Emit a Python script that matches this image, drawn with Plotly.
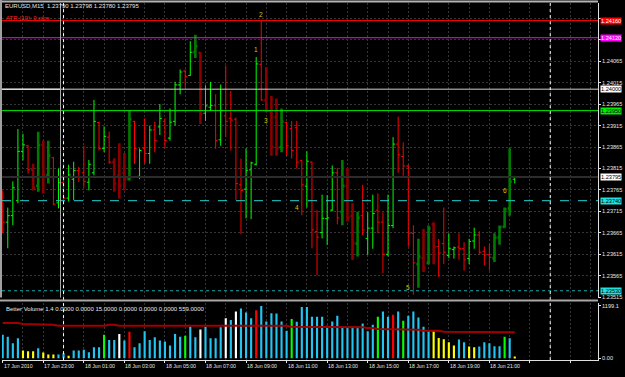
import pandas as pd
import plotly.graph_objects as go

# ---------------- data (EURUSD M15, 17 Jun 2010 21:00 -> 18 Jun 2010 22:15) ----------------
first_bar = "2010-06-17 21:00"
bar_open = [1.23750, 1.23690, 1.23705, 1.23740, 1.23855, 1.23868, 1.23812, 1.23775, 1.23870, 1.23800,
            1.23840, 1.23735, 1.23782, 1.23746, 1.23790, 1.23810, 1.23805, 1.23783, 1.23805, 1.23922,
            1.23862, 1.23888, 1.23830, 1.23800, 1.23805, 1.23790, 1.23925, 1.23797, 1.23862, 1.23850,
            1.23905, 1.23912, 1.23925, 1.23886, 1.23925, 1.24010, 1.24042, 1.24032, 1.24087, 1.24085,
            1.23944, 1.23958, 1.23961, 1.23882, 1.23938, 1.23932, 1.23930, 1.23777, 1.23767, 1.23812,
            1.23825, 1.24058, 1.23975, 1.23948, 1.23935, 1.23865, 1.23922, 1.23908, 1.23910, 1.23834,
            1.23774, 1.23830, 1.23668, 1.23666, 1.23698, 1.23718, 1.23805, 1.23714, 1.23774, 1.23705,
            1.23640, 1.23705, 1.23652, 1.23676, 1.23718, 1.23690, 1.23615, 1.23682, 1.23872, 1.23843,
            1.23821, 1.23664, 1.23592, 1.23606, 1.23595, 1.23685, 1.23633, 1.23640, 1.23612, 1.23626,
            1.23632, 1.23628, 1.23605, 1.23646, 1.23660, 1.23622, 1.23614, 1.23606, 1.23654, 1.23679,
            1.23722, 1.23790]
bar_high = [1.23764, 1.23724, 1.23785, 1.23907, 1.23896, 1.23870, 1.23826, 1.23901, 1.23880, 1.23880,
            1.23842, 1.23815, 1.23803, 1.23824, 1.23831, 1.23819, 1.23868, 1.23835, 1.23975, 1.23925,
            1.23913, 1.23901, 1.23839, 1.23874, 1.23851, 1.23949, 1.23926, 1.23862, 1.23932, 1.23915,
            1.23924, 1.23965, 1.23932, 1.23955, 1.24017, 1.24046, 1.24046, 1.24112, 1.24127, 1.24086,
            1.24009, 1.24017, 1.23988, 1.24011, 1.24055, 1.23996, 1.23934, 1.23838, 1.23862, 1.23831,
            1.24075, 1.24159, 1.24052, 1.23984, 1.23978, 1.23955, 1.23924, 1.23926, 1.23926, 1.23835,
            1.23855, 1.23831, 1.23718, 1.23754, 1.23753, 1.23822, 1.23816, 1.23835, 1.23816, 1.23734,
            1.23714, 1.23777, 1.23713, 1.23754, 1.23757, 1.23713, 1.23754, 1.23888, 1.23936, 1.23876,
            1.23824, 1.23683, 1.23651, 1.23674, 1.23682, 1.23690, 1.23651, 1.23724, 1.23664, 1.23633,
            1.23664, 1.23643, 1.23651, 1.23677, 1.23669, 1.23633, 1.23637, 1.23664, 1.23682, 1.23724,
            1.23862, 1.23798]
bar_low = [1.23664, 1.23629, 1.23683, 1.23734, 1.23834, 1.23803, 1.23764, 1.23761, 1.23757, 1.23780,
           1.23729, 1.23722, 1.23741, 1.23738, 1.23741, 1.23784, 1.23772, 1.23764, 1.23799, 1.23857,
           1.23853, 1.23826, 1.23761, 1.23745, 1.23764, 1.23787, 1.23826, 1.23790, 1.23826, 1.23826,
           1.23853, 1.23893, 1.23862, 1.23880, 1.23915, 1.23988, 1.24004, 1.24031, 1.24073, 1.23919,
           1.23926, 1.23949, 1.23861, 1.23868, 1.23888, 1.23857, 1.23741, 1.23662, 1.23699, 1.23697,
           1.23822, 1.23973, 1.23946, 1.23845, 1.23845, 1.23853, 1.23845, 1.23838, 1.23815, 1.23706,
           1.23724, 1.23629, 1.23567, 1.23652, 1.23637, 1.23716, 1.23685, 1.23683, 1.23692, 1.23602,
           1.23610, 1.23660, 1.23614, 1.23628, 1.23664, 1.23571, 1.23610, 1.23676, 1.23805, 1.23798,
           1.23633, 1.23521, 1.23537, 1.23574, 1.23591, 1.23592, 1.23562, 1.23592, 1.23606, 1.23605,
           1.23602, 1.23577, 1.23592, 1.23628, 1.23615, 1.23589, 1.23577, 1.23597, 1.23637, 1.23677,
           1.23705, 1.23780]
bar_close = [1.23690, 1.23705, 1.23770, 1.23855, 1.23870, 1.23812, 1.23770, 1.23870, 1.23800, 1.23845,
             1.23732, 1.23782, 1.23746, 1.23800, 1.23810, 1.23795, 1.23785, 1.23825, 1.23925, 1.23862,
             1.23890, 1.23830, 1.23780, 1.23775, 1.23790, 1.23930, 1.23862, 1.23857, 1.23850, 1.23905,
             1.23880, 1.23932, 1.23880, 1.23923, 1.24010, 1.24040, 1.24030, 1.24086, 1.24100, 1.23942,
             1.23961, 1.23962, 1.23880, 1.23950, 1.23925, 1.23928, 1.23780, 1.23764, 1.23811, 1.23828,
             1.24059, 1.23975, 1.23950, 1.23865, 1.23862, 1.23924, 1.23868, 1.23857, 1.23830, 1.23777,
             1.23832, 1.23672, 1.23655, 1.23699, 1.23700, 1.23805, 1.23700, 1.23775, 1.23700, 1.23641,
             1.23700, 1.23672, 1.23676, 1.23710, 1.23690, 1.23615, 1.23682, 1.23872, 1.23847, 1.23821,
             1.23664, 1.23595, 1.23610, 1.23583, 1.23675, 1.23633, 1.23618, 1.23620, 1.23629, 1.23630,
             1.23628, 1.23602, 1.23645, 1.23660, 1.23620, 1.23613, 1.23608, 1.23654, 1.23679, 1.23720,
             1.23784, 1.23795]
# bars painted by the session indicator (thick dark bars)
session_bars = [6, 7, 8, 9, 22, 23, 24, 25, 38, 39, 52, 53, 54, 55,
                67, 68, 69, 70, 82, 83, 84, 85, 97, 98, 99, 100]

volume = [539, 493, 342, 455, 175, 159, 159, 228, 129, 83,
          83, 83, 114, 53, 175, 175, 190, 137, 250, 250,
          539, 417, 417, 554, 402, 607, 250, 342, 615, 417,
          478, 402, 380, 288, 554, 493, 516, 721, 478, 660,
          721, 455, 455, 706, 918, 873, 1070, 1138, 1047, 918,
          1100, 1199.1, 842, 1032, 1025, 842, 630, 896, 835, 1176,
          1176, 949, 949, 949, 744, 842, 971, 721, 721, 721,
          721, 797, 615, 767, 949, 1070, 949, 994, 1070, 858,
          971, 1070, 934, 721, 615, 615, 463, 433, 364, 288,
          425, 364, 266, 250, 266, 364, 342, 273, 273, 493,
          455, 23]
# Better Volume classes: N normal, L low volume, U climax up, D climax down, C churn
volume_class = list("NNNNLLLNLL" "LNNLNNNNNN" "CNNDNUNNNN" "NNNNNNCNND"
                    "NNNNDNDNNN" "UNNNNNNCNN" "NNNNNNNNNN" "NNNNCNNUNC"
                    "NNNNNLLLLL" "NNLLNNNNNC" "NL")
volume_ma = [805, 805, 805, 805, 782, 782, 782, 767, 767, 767,
             767, 744, 744, 744, 744, 744, 744, 744, 744, 744,
             744, 767, 767, 744, 744, 744, 744, 744, 744, 744,
             744, 744, 744, 744, 744, 744, 744, 744, 744, 744,
             744, 744, 744, 744, 744, 744, 744, 744, 744, 744,
             744, 744, 744, 744, 744, 744, 744, 721, 721, 721,
             706, 706, 706, 706, 706, 706, 706, 706, 706, 706,
             706, 706, 690, 690, 668, 668, 668, 668, 668, 653,
             653, 653, 653, 630, 630, 630, 630, 607, 607, 607,
             607, 607, 607, 607, 607, 592, 592, 592, 592, 592,
             592, 592]

wave_labels = ["1", "2", "3", "4", "5", "6"]
wave_bar = [50, 51, 52, 58, 80, 99]
wave_price = [1.24092, 1.24173, 1.23928, 1.23724, 1.23537, 1.23764]

level_prices = [1.24160, 1.24120, 1.24000, 1.23950, 1.23795, 1.23740, 1.23530]
level_text = ["1.24160", "1.24120", "1.24000", "1.23950", "1.23795", "1.23740", "1.23530"]

price_ticks = [1.23515, 1.23565, 1.23615, 1.23665, 1.23715, 1.23765, 1.23815, 1.23865,
               1.23915, 1.23965, 1.24015, 1.24065, 1.24115, 1.24165]
price_tick_text = ["1.23515", "1.23565", "1.23615", "1.23665", "1.23715", "1.23765", "1.23815",
                   "1.23865", "1.23915", "1.23965", "1.24015", "1.24065", "", ""]

time_label_at = ["2010-06-17 21:00", "2010-06-17 23:00", "2010-06-18 01:00", "2010-06-18 03:00",
                 "2010-06-18 05:00", "2010-06-18 07:00", "2010-06-18 09:00", "2010-06-18 11:00",
                 "2010-06-18 13:00", "2010-06-18 15:00", "2010-06-18 17:00", "2010-06-18 19:00",
                 "2010-06-18 21:00"]
time_label_text = ["17 Jun 2010", "17 Jun 23:00", "18 Jun 01:00", "18 Jun 03:00", "18 Jun 05:00",
                   "18 Jun 07:00", "18 Jun 09:00", "18 Jun 11:00", "18 Jun 13:00", "18 Jun 15:00",
                   "18 Jun 17:00", "18 Jun 19:00", "18 Jun 21:00"]
day_separators = ["2010-06-18 00:00", "2010-06-19 00:00"]
box_line_time = "2010-06-17 23:51"

title_text = "EURUSD,M15  1.23790 1.23798 1.23780 1.23795"
atr_text = "ATR (10): 0 pips"
vol_title = "Better Volume 1.4 0.0000 0.0000 15.0000 0.0000 0.0000 0.0000 559.0000"

# ---------------- styling ----------------
W, H = 625, 377
FONT = "Liberation Sans"
TXT = "#E6E6E6"
GRID = "#363636"
x_range = ["2010-06-17 20:57:56", "2010-06-19 02:21:18"]
x_dom = [2 / W, 598 / W]
main_dom = [1 - 300 / H, 1 - 3 / H]
vol_dom = [1 - 363 / H, 1 - 305 / H]

times = pd.date_range(first_bar, periods=len(bar_open), freq="15min")
n = len(bar_open)
session_set = set(session_bars)

fig = go.Figure()


def add_ohlc(idx, up_col, dn_col, width):
    fig.add_trace(go.Ohlc(
        x=[times[i] for i in idx], open=[bar_open[i] for i in idx],
        high=[bar_high[i] for i in idx], low=[bar_low[i] for i in idx],
        close=[bar_close[i] for i in idx],
        increasing=dict(line=dict(color=up_col, width=width)),
        decreasing=dict(line=dict(color=dn_col, width=width)),
        tickwidth=0.4, xaxis="x", yaxis="y", hoverinfo="skip", showlegend=False))


add_ohlc([i for i in range(n) if i not in session_set], "#00FF00", "#FF0000", 1)
add_ohlc([i for i in range(n) if i in session_set], "#007A00", "#880000", 2.6)

vol_colors = {"N": "#22C4F2", "L": "#FFFF00", "U": "#FF0000", "D": "#FFFFFF", "C": "#00FF00"}
fig.add_trace(go.Bar(x=times, y=volume, marker=dict(color=[vol_colors[c] for c in volume_class],
                                                     line=dict(width=0)),
                     width=380000, xaxis="x2", yaxis="y2", hoverinfo="skip", showlegend=False))
fig.add_trace(go.Scatter(x=times, y=volume_ma, mode="lines", line=dict(color="#A00000", width=2),
                         xaxis="x2", yaxis="y2", hoverinfo="skip", showlegend=False))

shapes = []
# horizontal levels
level_styles = [("#FF0000", "solid", 1), ("#FF00FF", "solid", 1), ("#D0D0D0", "solid", 1),
                ("#00F000", "solid", 1), ("#2C2C2C", "solid", 2), ("#20D0D0", "dash", 1),
                ("#12A8A8", "dot", 1)]
for p, (c, d, w) in zip(level_prices, level_styles):
    shapes.append(dict(type="line", xref="x domain", yref="y", x0=0, x1=1, y0=p, y1=p,
                       line=dict(color=c, width=w, dash=d)))
# white left part of the 1.24000 box
shapes.append(dict(type="line", xref="x", yref="y", x0=x_range[0], x1=box_line_time,
                   y0=level_prices[2], y1=level_prices[2], line=dict(color="#FFFFFF", width=1)))
# gray vertical object line
shapes.append(dict(type="line", xref="x", yref="paper", x0=box_line_time, x1=box_line_time,
                   y0=main_dom[0], y1=main_dom[1], line=dict(color="#A8A8A8", width=1)))
# day separators
for d in day_separators:
    shapes.append(dict(type="line", xref="x", yref="paper", x0=d, x1=d, y0=vol_dom[0], y1=main_dom[1],
                       line=dict(color="#FFFFFF", width=1, dash="dot")))
# window frame and splitter
shapes.append(dict(type="line", xref="paper", yref="paper", x0=0, x1=598 / W,
                   y0=1 - 1.5 / H, y1=1 - 1.5 / H, line=dict(color="#B4B4B4", width=2)))
shapes.append(dict(type="line", xref="paper", yref="paper", x0=1 / W, x1=1 / W,
                   y0=main_dom[0], y1=1, line=dict(color="#A0A0A0", width=2)))
shapes.append(dict(type="line", xref="paper", yref="paper", x0=0, x1=598 / W,
                   y0=1 - 303 / H, y1=1 - 303 / H, line=dict(color="#A8A8A8", width=2)))

annotations = []
# price level labels on the axis
label_styles = [("#FF0000", "#FFFFFF"), ("#FF00FF", "#FFFFFF"), ("#FFFFFF", "#000000"),
                ("#00F000", "#000000"), ("#FFFFFF", "#000000"), ("#20E0E0", "#000000"),
                ("#20E0E0", "#000000")]
for p, t, (bg, fg) in zip(level_prices, level_text, label_styles):
    annotations.append(dict(xref="paper", yref="y", x=600 / W, y=p, text=t, showarrow=False,
                            xanchor="left", yanchor="middle", bgcolor=bg, borderpad=0,
                            font=dict(family=FONT, size=5.6, color=fg)))
# wave count labels
for t, b, p in zip(wave_labels, wave_bar, wave_price):
    annotations.append(dict(xref="x", yref="y", x=times[b], y=p, text=t, showarrow=False,
                            font=dict(family=FONT, size=6.5, color="#D8C400")))
# time labels
for t, s in zip(time_label_at, time_label_text):
    annotations.append(dict(xref="x2", yref="paper", x=t, y=1 - 369 / H, text=s, showarrow=False,
                            xanchor="left", yanchor="middle", xshift=-1,
                            font=dict(family=FONT, size=5.2, color=TXT)))
# window texts
annotations.append(dict(xref="paper", yref="paper", x=3 / W, y=1 - 6.5 / H, text=title_text,
                        showarrow=False, xanchor="left", yanchor="middle",
                        font=dict(family=FONT, size=6, color=TXT)))
annotations.append(dict(xref="paper", yref="paper", x=4 / W, y=1 - 18 / H, text=atr_text,
                        showarrow=False, xanchor="left", yanchor="middle",
                        font=dict(family=FONT, size=6, color="#FF2020")))
annotations.append(dict(xref="paper", yref="paper", x=4 / W, y=1 - 311 / H, text=vol_title,
                        showarrow=False, xanchor="left", yanchor="middle",
                        font=dict(family=FONT, size=6, color=TXT)))

grid = dict(showgrid=True, gridcolor=GRID, griddash="2px,2px", gridwidth=1)

fig.update_layout(
    width=W, height=H, margin=dict(l=0, r=0, t=0, b=0),
    paper_bgcolor="#000000", plot_bgcolor="#000000", showlegend=False,
    shapes=shapes, annotations=annotations,
    xaxis=dict(domain=x_dom, range=x_range, type="date", anchor="y", showticklabels=False,
               tick0=first_bar, dtick=3600000, ticks="", zeroline=False, showline=False,
               rangeslider=dict(visible=False), fixedrange=True, **grid),
    yaxis=dict(domain=main_dom, range=[1.23514, 1.24201], side="right", anchor="x",
               tickmode="array", tickvals=price_ticks, ticktext=price_tick_text,
               ticks="outside", ticklen=2, tickcolor=TXT,
               tickfont=dict(family=FONT, size=5.6, color=TXT),
               showline=True, linecolor="#E0E0E0", linewidth=1, zeroline=False, fixedrange=True,
               **grid),
    xaxis2=dict(domain=x_dom, range=x_range, type="date", anchor="y2", showticklabels=False,
                tick0=first_bar, dtick=7200000, ticks="outside", ticklen=2, tickcolor=TXT,
                minor=dict(tick0=first_bar, dtick=3600000, showgrid=True, gridcolor=GRID,
                           griddash="2px,2px", ticks=""),
                showline=True, linecolor="#E0E0E0", linewidth=1, zeroline=False,
                rangeslider=dict(visible=False), fixedrange=True, **grid),
    yaxis2=dict(domain=vol_dom, range=[-45, 1275], side="right", anchor="x2",
                tickmode="array", tickvals=[0, 1199.1], ticktext=["0.00", "1199.1"],
                ticks="outside", ticklen=2, tickcolor=TXT,
                tickfont=dict(family=FONT, size=5.6, color=TXT),
                showgrid=False, showline=True, linecolor="#E0E0E0", linewidth=1,
                zeroline=False, fixedrange=True),
)

fig.write_html("out.html")
